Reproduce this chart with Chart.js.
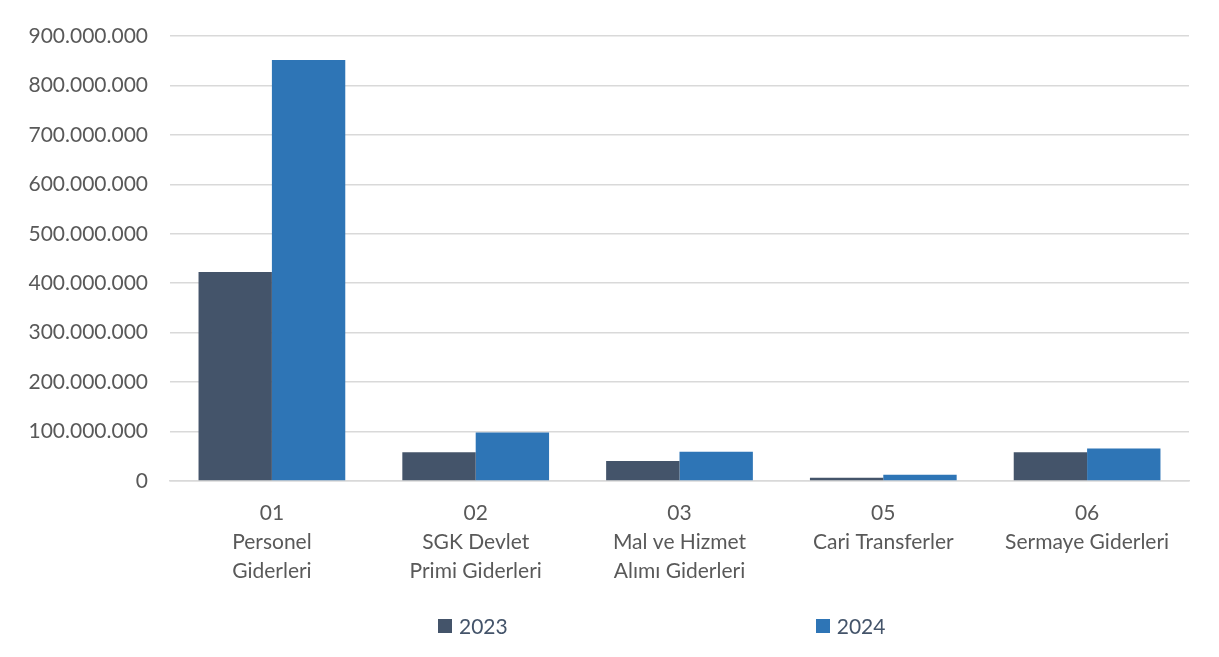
<!DOCTYPE html>
<html>
<head>
<meta charset="utf-8">
<script src="https://cdn.jsdelivr.net/npm/chart.js@4.4.1/dist/chart.umd.min.js"></script>
<style>
  html, body { margin: 0; padding: 0; background: #fff; }
  #wrap { position: relative; width: 1219px; height: 657px; }
  #legend { position: absolute; top: 612px; left: 438px; display: flex; gap: 308px;
            font-family: Lato, "Open Sans", sans-serif; font-size: 21px; line-height: 28px; color: #44546A; }
  .item { display: flex; align-items: center; }
  .box { width: 14px; height: 14px; margin-right: 7px; }
</style>
</head>
<body>
<div id="wrap">
  <canvas id="c" width="1219" height="657"></canvas>
  <div id="legend"></div>
</div>
<script>
const categories = [
  ["01", "Personel", "Giderleri"],
  ["02", "SGK Devlet", "Primi Giderleri"],
  ["03", "Mal ve Hizmet", "Alımı Giderleri"],
  ["05", "Cari Transferler"],
  ["06", "Sermaye Giderleri"]
];
const seriesNames = ["2023", "2024"];
const values2023 = [422700000, 57900000, 40500000, 6700000, 57900000];
const values2024 = [851500000, 98300000, 59300000, 12700000, 65800000];
const seriesColors = ["#44546A", "#2E75B6"];

const fontFam = "Lato, 'Open Sans', sans-serif";

function fmt(v) {
  return String(Math.round(v)).replace(/\B(?=(\d{3})+(?!\d))/g, ".");
}

new Chart(document.getElementById("c"), {
  type: "bar",
  data: {
    labels: categories,
    datasets: [
      { label: seriesNames[0], data: values2023, backgroundColor: seriesColors[0],
        categoryPercentage: 0.72, barPercentage: 1.0 },
      { label: seriesNames[1], data: values2024, backgroundColor: seriesColors[1],
        categoryPercentage: 0.72, barPercentage: 1.0 }
    ]
  },
  options: {
    responsive: false,
    animation: false,
    layout: { padding: { top: 36, right: 30, left: 0, bottom: 0 } },
    plugins: {
      legend: { display: false },
      tooltip: { enabled: false }
    },
    scales: {
      x: {
        grid: { display: false, drawTicks: false },
        border: { display: true, color: "#D9D9D9", width: 1.5 },
        ticks: {
          color: "#595959",
          font: { family: fontFam, size: 21, lineHeight: 1.38 },
          padding: 18,
          maxRotation: 0,
          autoSkip: false
        },
        afterFit(scale) { scale.height = 176; }
      },
      y: {
        min: 0,
        max: 900000000,
        grid: { color: "#D9D9D9", lineWidth: 1.5, drawTicks: false },
        border: { display: false },
        ticks: {
          stepSize: 100000000,
          color: "#595959",
          font: { family: fontFam, size: 21 },
          padding: 22,
          callback: (v) => fmt(v)
        },
        afterFit(scale) { scale.width = 170; }
      }
    }
  }
});

const legend = document.getElementById("legend");
seriesNames.forEach((name, i) => {
  const item = document.createElement("div");
  item.className = "item";
  const box = document.createElement("span");
  box.className = "box";
  box.style.background = seriesColors[i];
  const txt = document.createElement("span");
  txt.textContent = name;
  item.appendChild(box);
  item.appendChild(txt);
  legend.appendChild(item);
});
</script>
</body>
</html>
